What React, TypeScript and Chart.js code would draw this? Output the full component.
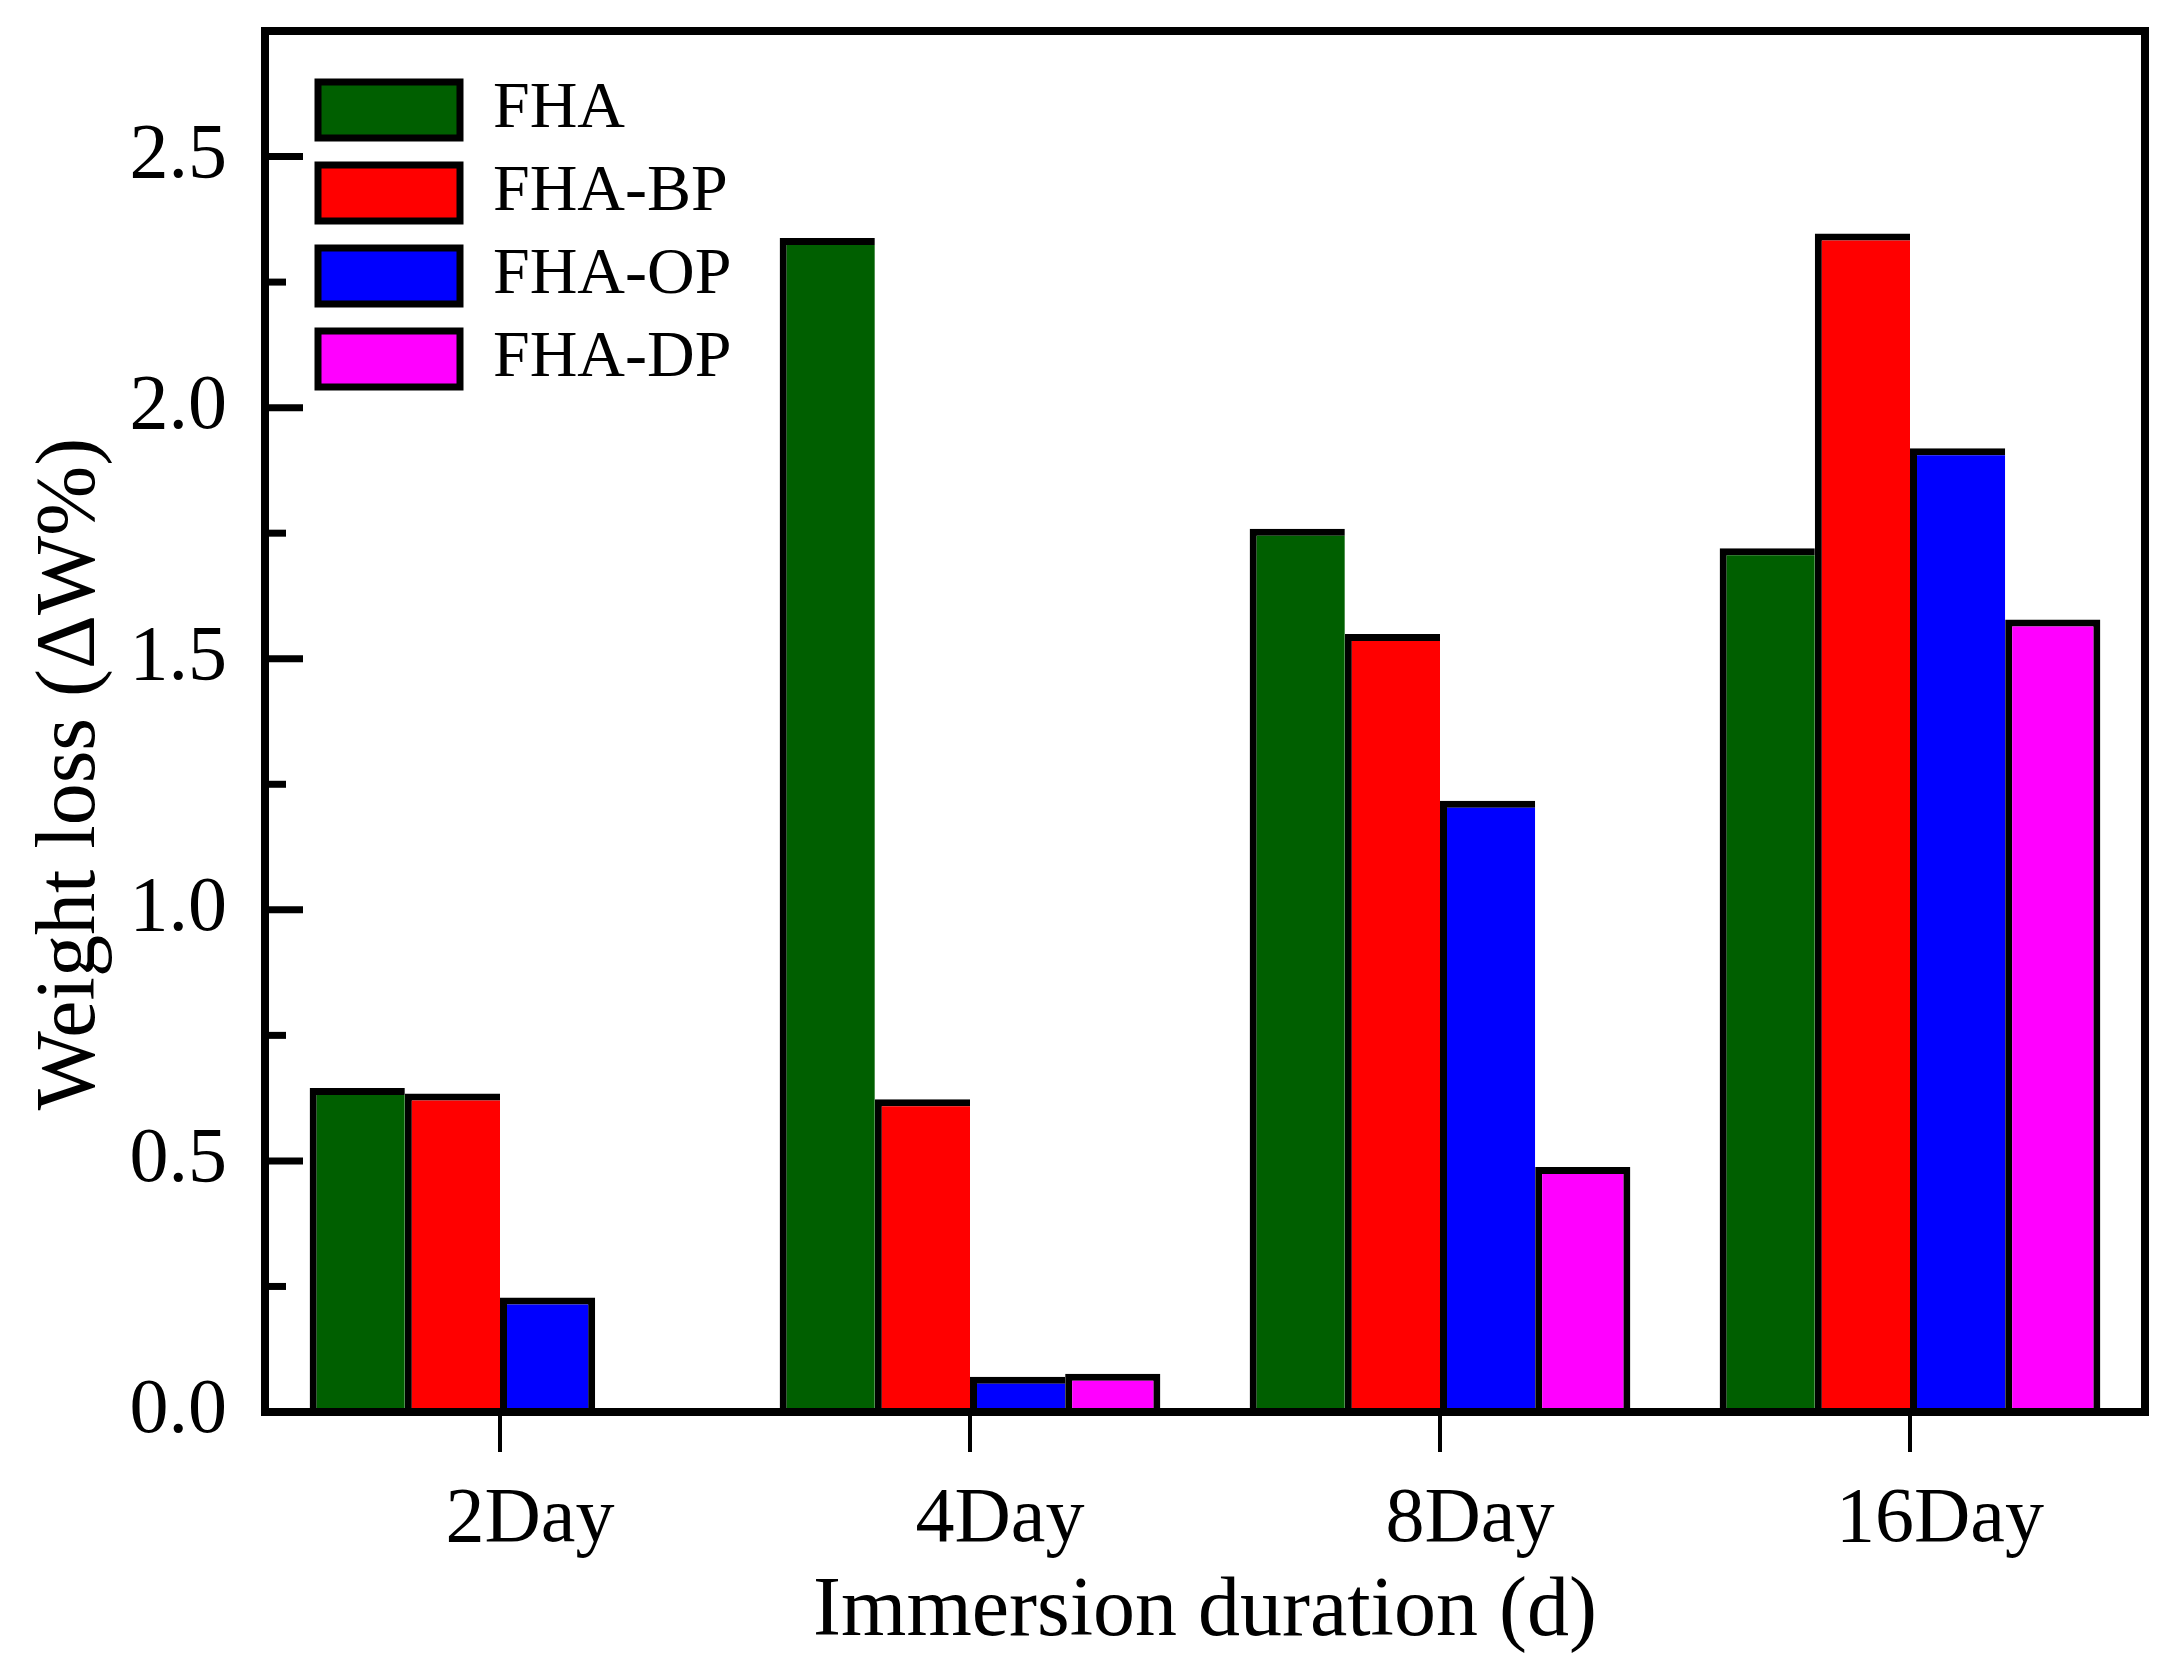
import React, { useEffect, useRef } from 'react';
import { Chart, registerables } from 'chart.js';

Chart.register(...registerables);

const categories = ['2Day', '4Day', '8Day', '16Day'];
const seriesNames = ['FHA', 'FHA-BP', 'FHA-OP', 'FHA-DP'];
const fhaValues = [0.645, 2.338, 1.759, 1.72];
const fhaBpValues = [0.634, 0.623, 1.549, 2.347];
const fhaOpValues = [0.228, 0.07, 1.217, 1.919];
const fhaDpValues: (number | null)[] = [null, 0.076, 0.488, 1.578];
const seriesColors = ['#005f00', '#ff0000', '#0000ff', '#ff00ff'];
const yMin = 0;
const yMax = 2.75;
const yStep = 0.25;
const xTitle = 'Immersion duration (d)';
const yTitle = 'Weight loss (ΔW%)';

const allSeries = [fhaValues, fhaBpValues, fhaOpValues, fhaDpValues];
const FONT = "'Liberation Serif', 'Times New Roman', serif";

const framePlugin = {
  id: 'frameTicks',
  afterLayout(chart: any) {
    const lg = chart.legend;
    const ca = chart.chartArea;
    if (lg && ca) {
      lg.left = ca.left + 36;
      lg.top = ca.top + 29;
      lg.right = lg.left + lg.width;
      lg.bottom = lg.top + lg.height;
    }
  },
  afterDatasetsDraw(chart: any) {
    const { ctx, chartArea: ca, scales } = chart;
    const y = scales.y;
    ctx.save();
    ctx.strokeStyle = '#000';
    ctx.lineCap = 'butt';
    ctx.lineWidth = 7;
    y.ticks.forEach((t: any) => {
      if (t.value <= yMin || t.value >= yMax) return;
      const py = y.getPixelForValue(t.value);
      const major = Math.abs(t.value * 2 - Math.round(t.value * 2)) < 1e-6;
      ctx.beginPath();
      ctx.moveTo(ca.left, py);
      ctx.lineTo(ca.left + (major ? 38 : 21), py);
      ctx.stroke();
    });
    ctx.lineWidth = 8;
    ctx.lineJoin = 'miter';
    ctx.strokeRect(ca.left, ca.top, ca.right - ca.left, ca.bottom - ca.top);
    ctx.restore();
  },
};

export default function App() {
  const ref = useRef<HTMLCanvasElement | null>(null);

  useEffect(() => {
    document.body.style.margin = '0';
    const canvas = ref.current;
    if (!canvas) return;

    const datasets = seriesNames.map((name, i) => ({
      label: name,
      data: allSeries[i],
      backgroundColor: seriesColors[i],
      borderColor: '#000',
      borderSkipped: 'start',
      borderWidth: (ctx: any) => {
        const di = ctx.datasetIndex;
        const j = ctx.dataIndex;
        let last = true;
        for (let k = di + 1; k < allSeries.length; k++) {
          if (allSeries[k][j] != null) last = false;
        }
        return { top: 7, left: 7, right: last ? 7 : 0, bottom: 0 };
      },
      categoryPercentage: 0.81,
      barPercentage: 1,
    }));

    const chart = new Chart(canvas, {
      type: 'bar',
      data: { labels: categories, datasets },
      options: {
        animation: false,
        responsive: false,
        devicePixelRatio: 1,
        layout: { padding: { top: 31, right: 31, bottom: 0, left: 0 } },
        plugins: {
          tooltip: { enabled: false },
          legend: {
            position: 'chartArea',
            align: 'start',
            labels: {
              boxWidth: 142,
              boxHeight: 56,
              padding: 17,
              color: '#000',
              font: { family: FONT, size: 66 },
              generateLabels: (c: any) =>
                (Chart as any).defaults.plugins.legend.labels
                  .generateLabels(c)
                  .map((l: any) => ({ ...l, lineWidth: 7, strokeStyle: '#000' })),
            },
          },
        },
        scales: {
          x: {
            type: 'category',
            offset: true,
            grid: {
              display: true,
              drawOnChartArea: false,
              drawTicks: true,
              tickLength: 40,
              lineWidth: 4,
              color: '#000',
              offset: false,
            },
            border: { display: false },
            ticks: {
              color: '#000',
              font: { family: FONT, size: 78 },
              padding: 22,
              labelOffset: 30,
              maxRotation: 0,
              autoSkip: false,
            },
            title: {
              display: true,
              text: xTitle,
              color: '#000',
              font: { family: FONT, size: 84 },
              padding: { top: 0, bottom: 9 },
            },
            afterFit: (s: any) => {
              s.height = 260;
              s.paddingLeft = 0;
              s.paddingRight = 0;
            },
          },
          y: {
            type: 'linear',
            min: yMin,
            max: yMax,
            grid: { display: false },
            border: { display: false },
            ticks: {
              stepSize: yStep,
              color: '#000',
              font: { family: FONT, size: 78 },
              padding: 30,
              callback: (v: any) => {
                const n = Number(v);
                return Math.abs(n * 2 - Math.round(n * 2)) < 1e-6 && n < yMax ? n.toFixed(1) : '';
              },
            },
            title: {
              display: true,
              text: yTitle + '\u00A0\u00A0\u00A0\u00A0\u00A0',
              color: '#000',
              font: { family: FONT, size: 84 },
              padding: { top: 22, bottom: 0 },
            },
            afterFit: (s: any) => {
              s.width = 265;
              s.paddingTop = 0;
              s.paddingBottom = 0;
            },
          },
        },
      } as any,
      plugins: [framePlugin],
    });

    return () => chart.destroy();
  }, []);

  return (
    <canvas
      ref={ref}
      width={2176}
      height={1672}
      style={{ display: 'block', width: 2176, height: 1672, background: '#fff' }}
    />
  );
}
